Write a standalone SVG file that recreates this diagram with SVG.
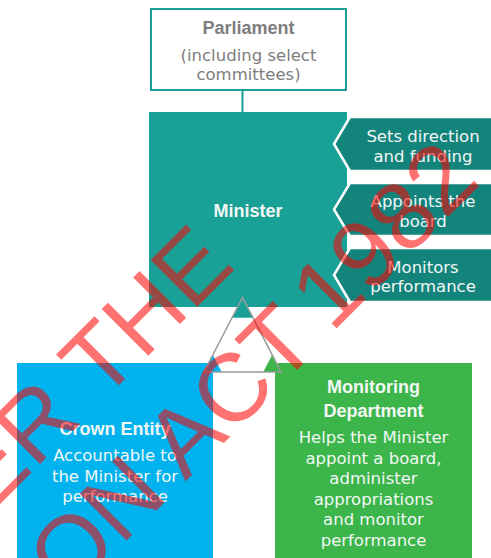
<svg xmlns="http://www.w3.org/2000/svg" width="491" height="558" viewBox="0 0 491 558">
<style>
.head{font-family:"Liberation Sans",Arial,sans-serif;font-weight:bold;font-size:18px;text-anchor:middle}
.body{font-family:"DejaVu Sans",sans-serif;font-size:16.5px;text-anchor:middle}
.lt{fill:#f2f7f5}
.tag{fill:#13847c;stroke:#ffffff;stroke-width:2.5}
.wm{font-family:"Liberation Sans",Arial,sans-serif;font-size:96px;fill:#ff0000;opacity:0.55;text-anchor:end}
</style>
<rect width="491" height="558" fill="#ffffff"/>
<g id="connectors">
<line x1="242.5" y1="90" x2="242.5" y2="112" stroke="#1aa197" stroke-width="2"/>
</g>
<g id="parliament">
<rect x="151" y="9" width="195" height="81" fill="#ffffff" stroke="#1aa197" stroke-width="2"/>
<text class="head" x="248.5" y="34" fill="#7d7d7d">Parliament</text>
<text class="body" x="248.5" y="60.5" fill="#7d7d7d">(including select</text>
<text class="body" x="248.5" y="80" fill="#7d7d7d">committees)</text>
</g>
<g id="minister">
<rect x="149" y="112" width="198" height="195" fill="#1aa197"/>
<text class="head lt" x="248" y="217">Minister</text>
</g>
<g id="tag-direction">
<path class="tag" d="M350,117 H494 V171 H350 L334,144 Z"/>
<text class="body lt" x="423" y="141.5">Sets direction</text>
<text class="body lt" x="423" y="161.5">and funding</text>
</g>
<g id="tag-board">
<path class="tag" d="M350,183 H494 V236 H350 L334,209.5 Z"/>
<text class="body lt" x="423" y="206.5">Appoints the</text>
<text class="body lt" x="423" y="227">board</text>
</g>
<g id="tag-monitor">
<path class="tag" d="M350,248 H494 V302 H350 L334,275 Z"/>
<text class="body lt" x="423" y="272.5">Monitors</text>
<text class="body lt" x="423" y="292">performance</text>
</g>
<g id="crown-entity">
<rect x="17" y="363" width="196" height="196" fill="#00b3ef"/>
<text class="head lt" x="115" y="435">Crown Entity</text>
<text class="body lt" x="115" y="461">Accountable to</text>
<text class="body lt" x="115" y="481.5">the Minister for</text>
<text class="body lt" x="115" y="501.5">performance</text>
</g>
<g id="monitoring-department">
<rect x="275" y="363" width="197" height="196" fill="#3cb54a"/>
<text class="head lt" x="373.5" y="393">Monitoring</text>
<text class="head lt" x="373.5" y="417">Department</text>
<text class="body lt" x="373.5" y="443">Helps the Minister</text>
<text class="body lt" x="373.5" y="463.5">appoint a board,</text>
<text class="body lt" x="373.5" y="484">administer</text>
<text class="body lt" x="373.5" y="504.5">appropriations</text>
<text class="body lt" x="373.5" y="525">and monitor</text>
<text class="body lt" x="373.5" y="545.5">performance</text>
</g>
<g id="relationship-triangle">
<polygon points="242.5,297.5 204,372 281,372" fill="#ffffff"/>
<polygon points="242.5,297.5 232.1,317.7 252.9,317.7" fill="#1aa197"/>
<polygon points="204,372 212.9,354.9 221.7,372" fill="#00b3ef"/>
<polygon points="281,372 272.1,354.9 263.3,372" fill="#3cb54a"/>
<polygon points="242.5,297.5 204,372 281,372" fill="none" stroke="#9a9a9a" stroke-width="1.5"/>
</g>
<g id="watermark">
<text class="wm" transform="translate(237,267) rotate(-45)">ER THE</text>
<text class="wm" transform="translate(321,346) rotate(-45)">ON ACT</text>
<text class="wm" transform="translate(482.5,182.5) rotate(-45)">1982</text>
</g>
</svg>
